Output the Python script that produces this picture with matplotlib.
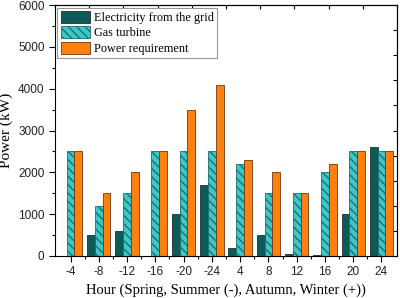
import matplotlib.pyplot as plt
import numpy as np
from matplotlib.ticker import MultipleLocator

hours = ["-4", "-8", "-12", "-16", "-20", "-24", "4", "8", "12", "16", "20", "24"]
grid = [0, 500, 600, 0, 1000, 1700, 200, 500, 50, 20, 1000, 2600]
gas_turbine = [2500, 1200, 1500, 2500, 2500, 2500, 2200, 1500, 1500, 2000, 2500, 2500]
requirement = [2500, 1500, 2000, 2500, 3500, 4100, 2300, 2000, 1500, 2200, 2500, 2500]

plt.rcParams['hatch.linewidth'] = 1.0
serif = "Liberation Serif"
sans = "Liberation Sans"

fig = plt.figure(figsize=(4.0, 2.98), dpi=100)
ax = fig.add_axes([0.1375, 0.141, 0.855, 0.842])

x = np.arange(len(hours))
w = 0.275
ax.bar(x - w, grid, w, color="#0e5a58", edgecolor="#1f2f2f", linewidth=0.6,
       label="Electricity from the grid")
ax.bar(x, gas_turbine, w, color="#3cc8c8", edgecolor="#1f6f6f", hatch="\\\\\\\\",
       linewidth=0.6, label="Gas turbine")
ax.bar(x + w, requirement, w, color="#ff7f0f", edgecolor="#6a3a10", linewidth=0.6,
       label="Power requirement")

ax.set_xlim(-0.55, 11.55)
ax.set_ylim(0, 6000)
ax.set_xticks(x)
ax.set_xticklabels(hours, family=sans, fontsize=8.5, color="#222222")
ax.set_xticks(x[:-1] + 0.5, minor=True)
ax.yaxis.set_major_locator(MultipleLocator(1000))
ax.yaxis.set_minor_locator(MultipleLocator(500))
for lab in ax.get_yticklabels():
    lab.set_family(sans)
    lab.set_fontsize(8.5)
    lab.set_color("#222222")
ax.tick_params(axis="both", which="major", direction="out", length=4, width=0.8)
ax.tick_params(axis="both", which="minor", direction="out", length=2, width=0.8)

# frame ticks on top and right (independent, 10 divisions)
top = ax.secondary_xaxis("top", functions=(lambda v: (v + 0.55) / 12.1, lambda v: v * 12.1 - 0.55))
top.set_xticks(np.linspace(0, 1, 11))
top.tick_params(direction="in", length=3, labeltop=False)
right = ax.secondary_yaxis("right", functions=(lambda v: v / 6000, lambda v: v * 6000))
right.set_yticks(np.linspace(0, 1, 11))
right.tick_params(direction="in", length=3, labelright=False)

ax.set_xlabel("Hour (Spring, Summer (-), Autumn, Winter (+))", family=serif, fontsize=10.5)
ax.set_ylabel("Power (kW)", family=serif, fontsize=11)

leg = ax.legend(loc="upper left", prop={"family": serif, "size": 8.8}, fancybox=False,
                edgecolor="#999999", handlelength=2.4, handleheight=1.15,
                handletextpad=0.35, labelspacing=0.2, borderpad=0.25,
                borderaxespad=0.2, framealpha=1)
leg.get_frame().set_linewidth(0.8)

plt.savefig("out.png", dpi=100)
plt.close()
